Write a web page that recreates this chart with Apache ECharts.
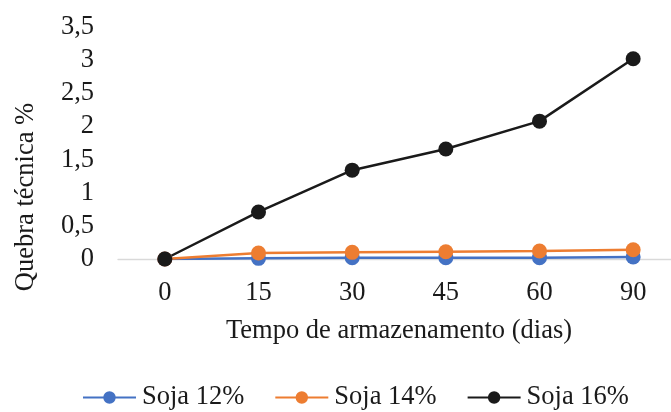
<!DOCTYPE html>
<html>
<head>
<meta charset="utf-8">
<script src="https://cdn.jsdelivr.net/npm/echarts@6/dist/echarts.min.js"></script>
<style>
  html, body { margin: 0; padding: 0; background: #fff; }
  #chart { width: 671px; height: 412px; }
</style>
</head>
<body>
<div id="chart"></div>
<script>
// Storage time (days) and technical loss (%) per soybean moisture level
const dias = ['0', '15', '30', '45', '60', '90'];
const soja12 = [0, 0.01, 0.02, 0.02, 0.02, 0.03];
const soja14 = [0, 0.09, 0.10, 0.11, 0.12, 0.14];
const soja16 = [0, 0.71, 1.34, 1.66, 2.08, 3.02];

const FONT = '"Liberation Serif", "Times New Roman", serif';
const TXT = '#1a1a1a';
const FS = 26.5;

const chart = echarts.init(document.getElementById('chart'), null, { renderer: 'canvas' });

function serie(name, data, color) {
  return {
    name: name,
    type: 'line',
    data: data,
    symbol: 'circle',
    symbolSize: 15,
    lineStyle: { color: color, width: 2.5 },
    itemStyle: { color: color },
    emphasis: { disabled: true },
    animation: false
  };
}

chart.setOption({
  animation: false,
  // plot area runs slightly past the right edge of the canvas
  grid: { left: 118, width: 562, top: 27, bottom: 153, containLabel: false, outerBoundsMode: 'none' },
  xAxis: {
    type: 'category',
    data: dias,
    boundaryGap: true,
    axisLine: { lineStyle: { color: '#d9d9d9', width: 1.3 } },
    axisTick: { show: false },
    axisLabel: { fontFamily: FONT, fontSize: FS, color: TXT, margin: 21 },
    name: 'Tempo de armazenamento (dias)',
    nameLocation: 'middle',
    nameGap: 59,
    nameTextStyle: { fontFamily: FONT, fontSize: FS, color: TXT }
  },
  yAxis: {
    type: 'value',
    min: 0,
    max: 3.5,
    interval: 0.5,
    axisLine: { show: false },
    axisTick: { show: false },
    splitLine: { show: false },
    axisLabel: {
      fontFamily: FONT, fontSize: FS, color: TXT, margin: 24,
      formatter: v => String(v).replace('.', ',')
    }
  },
  legend: {
    top: 384,
    left: 82,
    padding: 0,
    itemWidth: 53,
    itemHeight: 15.5,
    itemGap: 30,
    textStyle: { fontFamily: FONT, fontSize: FS, color: TXT, padding: [0, 0, 0, 1] },
    data: ['Soja 12%', 'Soja 14%', 'Soja 16%']
  },
  graphic: [{
    type: 'text',
    x: 26,
    y: 197,
    rotation: Math.PI / 2,
    style: {
      text: 'Quebra técnica %',
      font: FS + 'px ' + FONT,
      fill: TXT,
      align: 'center',
      verticalAlign: 'middle'
    }
  }],
  series: [
    serie('Soja 12%', soja12, '#4472C4'),
    serie('Soja 14%', soja14, '#ED7D31'),
    serie('Soja 16%', soja16, '#1a1a1a')
  ]
});
</script>
</body>
</html>
